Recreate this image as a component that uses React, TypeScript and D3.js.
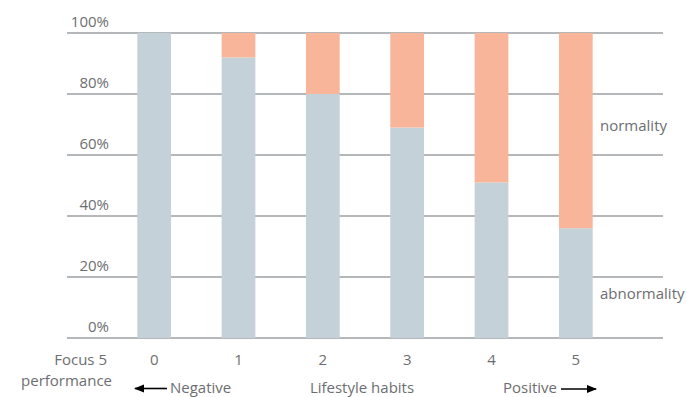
import React from "react";
import * as d3 from "d3";

const categories = ["0", "1", "2", "3", "4", "5"];
const abnormality = [100, 92, 80, 69, 51, 36];
const normality = [0, 8, 20, 31, 49, 64];
const yTicks = [0, 20, 40, 60, 80, 100];
const seriesLabels = ["normality", "abnormality"];

const W = 687;
const H = 397;
const FONT = "'Open Sans', 'Noto Sans', sans-serif";
const TEXT = "#6d6e71";
const GRID = "#6b7278";
const GRAY = "#c5d1d8";
const ORANGE = "#f9b59a";

export default function App() {
  const y = d3.scaleLinear().domain([0, 100]).range([338, 33]);
  const x = d3
    .scaleBand<string>()
    .domain(categories)
    .range([112, 618])
    .paddingInner(0.6)
    .paddingOuter(0.3);
  const gridX0 = 67;
  const gridX1 = 663;

  const stackData = categories.map((c, i) => ({
    cat: c,
    abnormality: abnormality[i],
    normality: normality[i],
  }));
  const stack = d3.stack<any>().keys(["abnormality", "normality"]);
  const series = stack(stackData);
  const colors: Record<string, string> = { abnormality: GRAY, normality: ORANGE };

  return (
    <svg
      width={W}
      height={H}
      style={{ position: "absolute", left: 0, top: 0, background: "#fff" }}
      fontFamily={FONT}
    >
      <defs>
        <marker id="ah" viewBox="0 0 10 10" refX="9" refY="5" markerWidth="10" markerHeight="10" markerUnits="userSpaceOnUse" orient="auto">
          <path d="M0,1 L10,5 L0,9 Z" fill="#000" />
        </marker>
      </defs>
      {yTicks.map((t) => (
        <g key={t}>
          <line x1={gridX0} x2={gridX1} y1={y(t)} y2={y(t)} stroke={GRID} strokeWidth={1.2} />
          <text x={109} y={y(t) - 6.5} textAnchor="end" fontSize={15} fill={TEXT}>
            {t}%
          </text>
        </g>
      ))}
      {series.map((s) => (
        <g key={s.key}>
          {s.map((d, i) => (
            <rect
              key={i}
              x={x(categories[i])}
              width={x.bandwidth()}
              y={y(d[1])}
              height={Math.max(0, y(d[0]) - y(d[1]))}
              fill={colors[s.key]}
            />
          ))}
        </g>
      ))}
      {categories.map((c) => (
        <text key={c} x={(x(c) as number) + x.bandwidth() / 2} y={365} textAnchor="middle" fontSize={15} fill={TEXT}>
          {c}
        </text>
      ))}
      <text x={107} y={365} textAnchor="end" fontSize={15} fill={TEXT}>Focus 5</text>
      <text x={112} y={386} textAnchor="end" fontSize={15} fill={TEXT}>performance</text>
      <line x1={167} x2={135} y1={388.5} y2={388.5} stroke="#000" strokeWidth={1.6} markerEnd="url(#ah)" />
      <text x={170} y={393} fontSize={15} fill={TEXT}>Negative</text>
      <text x={362} y={393} textAnchor="middle" fontSize={15} fill={TEXT}>Lifestyle habits</text>
      <text x={557} y={393} textAnchor="end" fontSize={15} fill={TEXT}>Positive</text>
      <line x1={561} x2={596} y1={389} y2={389} stroke="#000" strokeWidth={1.6} markerEnd="url(#ah)" />
      <text x={600} y={131} fontSize={15} fill={TEXT}>{seriesLabels[0]}</text>
      <text x={600} y={299} fontSize={15} fill={TEXT}>{seriesLabels[1]}</text>
    </svg>
  );
}
